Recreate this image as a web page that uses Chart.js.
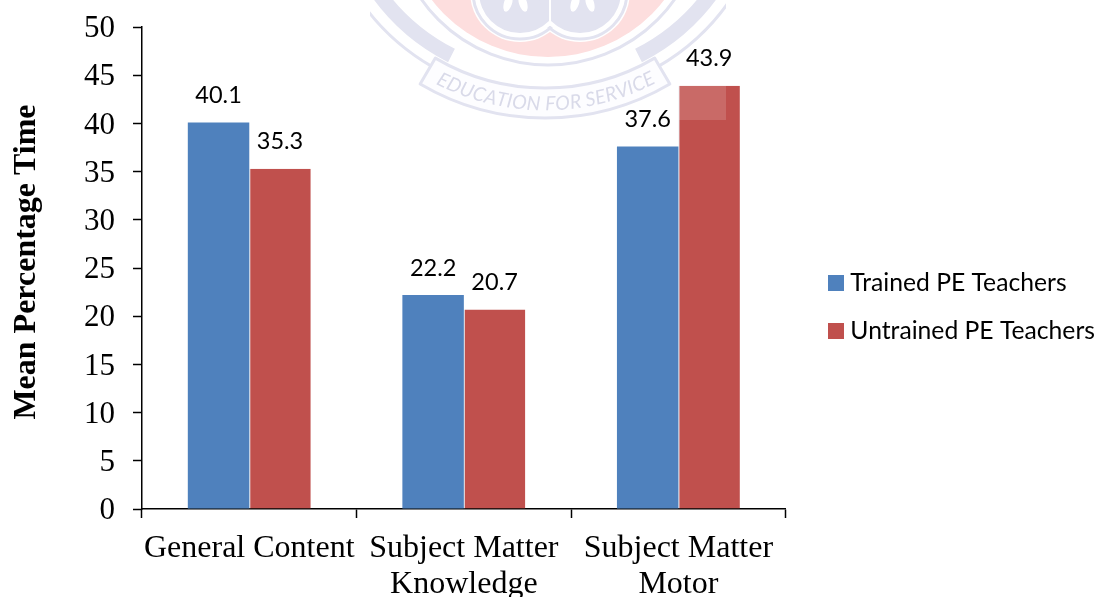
<!DOCTYPE html>
<html>
<head>
<meta charset="utf-8">
<style>
html,body{margin:0;padding:0;background:#fff;overflow:hidden}
#wrap{position:relative;width:1099px;height:597px}
</style>
<script src="https://cdn.jsdelivr.net/npm/chart.js@4"></script>
</head>
<body>
<div id="wrap"><canvas id="c" width="1099" height="597"></canvas></div>
<script>
const categories = [['General Content'], ['Subject Matter', 'Knowledge'], ['Subject Matter', 'Motor']];
const trainedValues = [40.1, 22.2, 37.6];
const untrainedValues = [35.3, 20.7, 43.9];
const seriesNames = ['Trained PE Teachers', 'Untrained PE Teachers'];
const seriesColors = ['#4F81BD', '#C0504D'];
const axisTitle = 'Mean Percentage Time';
const sealMotto = 'EDUCATION FOR SERVICE';

const LAVENDER = '#e2e3f0';
const PINK = '#fddede';

// Pale institutional seal printed behind the plot
const sealPlugin = {
  id: 'seal',
  beforeDraw(chart) {
    const c = chart.ctx;
    const deg = Math.PI / 180;
    c.save();
    c.beginPath(); c.rect(370, 0, 356, 121); c.clip();
    c.filter = 'blur(0.6px)';

    // pink disc
    c.fillStyle = PINK;
    c.beginPath(); c.arc(548, -90, 147, 0, Math.PI * 2); c.fill();
    // ring round the disc
    c.strokeStyle = LAVENDER; c.lineWidth = 3;
    c.beginPath(); c.arc(548, -90, 155, 0, Math.PI * 2); c.stroke();

    // linked rings in the middle
    const lobes = [520, 580];
    c.fillStyle = '#fff';
    for (const cx of lobes) { c.beginPath(); c.arc(cx, -8, 50, 0, Math.PI * 2); c.fill(); }
    c.strokeStyle = LAVENDER; c.lineWidth = 3;
    for (const cx of lobes) { c.beginPath(); c.arc(cx, -8, 47, 0, Math.PI * 2); c.stroke(); }
    c.fillStyle = '#fff';
    for (const cx of lobes) { c.beginPath(); c.arc(cx, -8, 45, 0, Math.PI * 2); c.fill(); }
    c.fillStyle = LAVENDER;
    for (const cx of lobes) { c.beginPath(); c.arc(cx, -8, 41, 0, Math.PI * 2); c.fill(); }
    c.fillStyle = '#fff';
    c.fillRect(549, 0, 2, 24);
    for (const x of [508, 523, 575, 590]) {
      c.beginPath(); c.ellipse(x, 3, 4, 9, x < 516 || (x > 550 && x < 582) ? 0.3 : -0.3, 0, Math.PI * 2); c.fill();
    }

    // ribbon wings either side
    c.strokeStyle = LAVENDER;
    c.lineWidth = 15;
    c.beginPath(); c.arc(545, -128, 206, 117 * deg, 148 * deg); c.stroke();
    c.beginPath(); c.arc(545, -128, 206, 32 * deg, 63 * deg); c.stroke();
    c.lineWidth = 3;
    c.beginPath(); c.arc(545, -128, 225, 120 * deg, 152 * deg); c.stroke();
    c.beginPath(); c.arc(545, -128, 225, 28 * deg, 60 * deg); c.stroke();

    // motto band, outlined
    const a0 = 59.5 * deg, a1 = 120.5 * deg;
    c.fillStyle = '#fdfdff';
    c.strokeStyle = LAVENDER; c.lineWidth = 3; c.lineJoin = 'round';
    c.beginPath();
    c.arc(545, -128, 246, a0, a1);
    c.arc(545, -128, 216, a1, a0, true);
    c.closePath(); c.fill(); c.stroke();

    // motto, set along the band
    c.fillStyle = '#d9dae9';
    c.font = 'italic 19.5px "Lato"';
    c.textAlign = 'center';
    c.textBaseline = 'middle';
    const radius = 232;
    const total = c.measureText(sealMotto).width;
    let run = -total / 2;
    for (const ch of sealMotto) {
      const w = c.measureText(ch).width;
      const a = (run + w / 2) / radius;
      c.save();
      c.translate(545 + Math.sin(a) * radius, -128 + Math.cos(a) * radius);
      c.rotate(-a);
      c.fillText(ch, 0, 0);
      c.restore();
      run += w;
    }
    c.restore();

    // legend sits clear of the plot, at a fixed spot in the right margin
    const lg = chart.legend;
    const shift = 810.7 - lg.left;
    lg.left += shift; lg.right += shift;
    const mid = (lg.top + lg.bottom) / 2;
    lg.top += 307 - mid; lg.bottom += 307 - mid;

    // seat the serif numerals optically on their tick marks
    chart.scales.y.getLabelItems().forEach(item => { item.options.translation[1] += 2; });
  }
};

// Values above each bar, the seal's faint panel, and the rotated axis title
const annotatePlugin = {
  id: 'annotate',
  afterDatasetsDraw(chart) {
    const c = chart.ctx;
    c.save();
    c.fillStyle = 'rgba(255,255,255,0.15)';
    c.fillRect(678, 86, 48, 34);
    c.fillStyle = '#000';
    c.font = '23.5px "Lato"';
    c.textAlign = 'center';
    c.textBaseline = 'middle';
    chart.data.datasets.forEach((ds, i) => {
      chart.getDatasetMeta(i).data.forEach((bar, j) => {
        c.fillText(ds.data[j].toFixed(1), bar.x, bar.y - 27);
      });
    });
    c.translate(27, 262);
    c.rotate(-Math.PI / 2);
    c.font = 'bold 32px "Liberation Serif"';
    c.fillText(axisTitle, 0, 0);
    c.restore();
  }
};

new Chart(document.getElementById('c'), {
  type: 'bar',
  data: {
    labels: categories,
    datasets: [
      { label: seriesNames[0], data: trainedValues, backgroundColor: seriesColors[0], borderWidth: 0 },
      { label: seriesNames[1], data: untrainedValues, backgroundColor: seriesColors[1],
        borderColor: '#dfe3ea', borderWidth: { left: 1, right: 0, top: 0, bottom: 0 } }
    ]
  },
  plugins: [sealPlugin, annotatePlugin],
  options: {
    responsive: false,
    animation: false,
    layout: { autoPadding: false, padding: { top: 27, left: 0, right: 19, bottom: 0 } },
    datasets: { bar: { categoryPercentage: 0.573, barPercentage: 1 } },
    plugins: {
      tooltip: { enabled: false },
      legend: {
        position: 'right',
        maxWidth: 308,
        labels: {
          // a thick stroke squares up the swatch so the text sits close beside it
          boxWidth: 4, boxHeight: 4, padding: 23.3,
          color: '#000',
          font: { family: 'Lato', size: 24.7 },
          generateLabels: () => seriesNames.map((name, i) => ({
            text: name, fillStyle: seriesColors[i], strokeStyle: seriesColors[i],
            lineWidth: 12, lineJoin: 'miter', datasetIndex: i, hidden: false
          }))
        }
      }
    },
    scales: {
      x: {
        afterFit(s) { s.height = 88; s.paddingLeft = 0; s.paddingRight = 0; },
        grid: { offset: true, drawOnChartArea: false, tickLength: 9, tickColor: '#000', tickWidth: 1.5 },
        border: { color: '#000', width: 1.5 },
        ticks: {
          color: '#000', autoSkip: false, maxRotation: 0, minRotation: 0, padding: 13,
          font: { family: 'Liberation Serif', size: 32, lineHeight: 1.12 }
        }
      },
      y: {
        min: 0, max: 50,
        afterFit(s) { s.width = 142; s.paddingTop = 0; s.paddingBottom = 0; },
        grid: { drawOnChartArea: false, tickLength: 9, tickColor: '#000', tickWidth: 1.5 },
        border: { color: '#000', width: 1.5 },
        ticks: {
          stepSize: 5, color: '#000', padding: 18,
          font: { family: 'Liberation Serif', size: 31 }
        }
      }
    }
  }
});
</script>
</body>
</html>
